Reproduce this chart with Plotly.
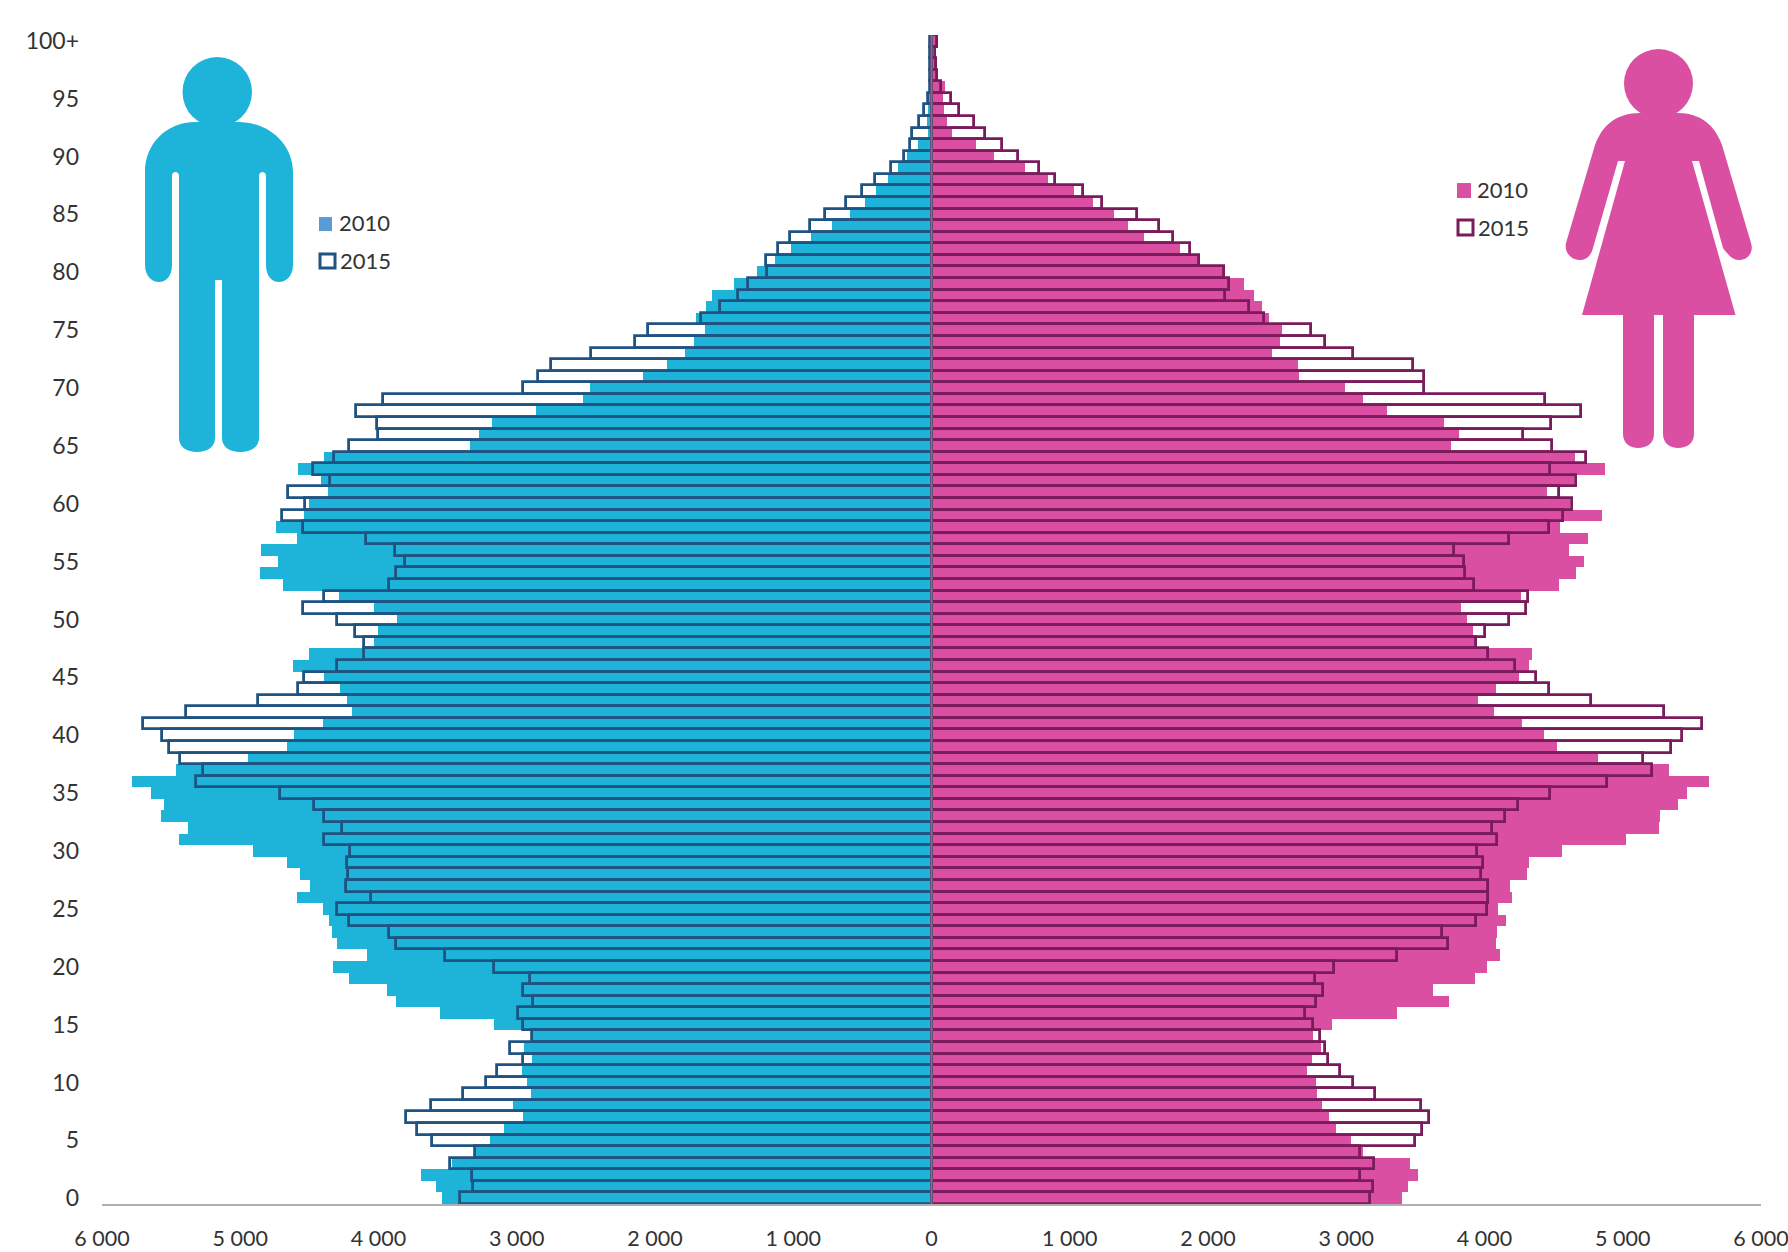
import plotly.graph_objects as go

ages = list(range(0, 101))
male_2010 = [3541,3584,3695,3470,3292,3197,3090,2953,3026,2897,2923,2961,2888,2944,2880,3167,3558,3871,3940,4210,
             4330,4082,4300,4339,4356,4403,4588,4498,4571,4665,4906,5446,5378,5575,5549,5648,5781,5464,4944,4665,
             4609,4403,4193,4227,4275,4395,4618,4506,4030,4004,3867,4030,4283,4691,4858,4730,4850,4588,4738,4541,
             4506,4365,4416,4584,4395,3335,3270,3176,2858,2524,2468,2090,1910,1781,1717,1640,1704,1631,1588,1425,
             1262,1129,1017,875,717,586,482,398,313,239,178,99,27,34,27,15,8,5,5,5,5]
male_2015 = [3412,3318,3326,3485,3305,3614,3725,3798,3622,3391,3223,3142,2953,3047,2888,2957,2991,2880,2953,2906,
             3167,3519,3876,3923,4210,4300,4052,4236,4219,4227,4206,4395,4266,4395,4464,4712,5318,5270,5438,5515,
             5567,5700,5391,4871,4579,4536,4300,4107,4107,4172,4300,4545,4395,3923,3876,3811,3884,4090,4545,4695,
             4532,4657,4348,4472,4322,4210,4004,4013,4163,3970,2953,2845,2751,2464,2146,2052,1670,1528,1399,1326,
             1189,1197,1112,1026,880,767,622,501,407,296,202,154,140,92,53,27,10,10,10,10,10]
female_2010 = [3405,3448,3516,3460,3123,3033,2929,2874,2827,2791,2779,2716,2751,2815,2763,2898,3365,3745,3626,3931,
               4018,4109,4085,4093,4153,4101,4196,4188,4307,4323,4557,5024,5261,5273,5396,5467,5626,5333,4822,4525,
               4430,4271,4066,3955,4082,4252,4323,4343,3930,3915,3872,3832,4264,4541,4660,4723,4612,4751,4545,4853,
               4620,4450,4650,4873,4652,3761,3816,3709,3294,3123,2993,2660,2652,2466,2522,2538,2439,2391,2336,2261,
               2106,1925,1797,1536,1421,1322,1169,1029,843,677,453,323,147,111,92,82,96,35,25,10,30]
female_2015 = [3171,3191,3100,3199,3100,3496,3551,3599,3543,3207,3052,2957,2866,2846,2811,2763,2700,2783,2831,2771,
               2914,3369,3737,3694,3935,4018,4026,4026,3975,3990,3943,4093,4054,4149,4244,4473,4885,5210,5143,5348,
               5432,5574,5301,4770,4465,4371,4224,4026,3939,4006,4177,4299,4315,3923,3860,3852,3777,4177,4465,4568,
               4632,4537,4660,4477,4735,4489,4279,4481,4699,4438,3563,3563,3480,3052,2846,2744,2403,2300,2126,2150,
               2118,1936,1873,1750,1647,1488,1236,1097,892,781,629,508,390,306,202,140,72,39,29,22,39]
x_tick_values = [-6000,-5000,-4000,-3000,-2000,-1000,0,1000,2000,3000,4000,5000,6000]
x_tick_labels = ["6 000","5 000","4 000","3 000","2 000","1 000","0","1 000","2 000","3 000","4 000","5 000","6 000"]
y_tick_values = list(range(0, 101, 5))
y_tick_labels = [str(v) for v in y_tick_values[:-1]] + ["100+"]

CYAN = "#1EB4D9"
PINK = "#DB4FA2"
NAVY = "#1F5382"
PLUM = "#7A1B5C"
L, R, T, B = 102.0, 1761.0, 35.0, 1203.7
FONT = "Lato"

def px(x):
    return (x - L) / (R - L)

def py(y):
    return (B - y) / (B - T)

def path(cmds):
    out = []
    for c in cmds:
        out.append(c[0] + " " + " ".join(
            f"{px(c[i]):.5f},{py(c[i+1]):.5f}" for i in range(1, len(c), 2)))
    return " ".join(out) + " Z"

man = [("M",196,122),("L",238,122),("C",270,122,293,145,293,172),("L",293,265),("C",293,276,286,282,279,282),
       ("C",272,282,266,276,266,265),("L",266,176),("C",266,173,264,172,262.5,172),("C",261,172,259,173,259,176),
       ("L",259,438),("C",259,447,251,452,240,452),("C",230,452,222,447,222,438),("L",222,280),("L",215,280),
       ("L",215,438),("C",215,447,207,452,197,452),("C",187,452,179,447,179,438),("L",179,176),
       ("C",179,173,177,172,175.5,172),("C",174,172,172,173,172,176),("L",172,265),("C",172,276,166,282,159,282),
       ("C",152,282,145,276,145,265),("L",145,172),("C",145,145,165,122,196,122)]
woman = [("M",1640,113),("L",1678,113),("C",1700,113,1715,125,1722,145),("L",1751,243),("C",1754,252,1748,260,1739,260),
         ("C",1733,260,1729,256,1723,248),("L",1699,161),("L",1692,161),("L",1735.5,315),("L",1694,315),("L",1694,434),
         ("C",1694,443,1687,448,1678,448),("C",1670,448,1663,443,1663,434),("L",1663,315),("L",1654,315),("L",1654,434),
         ("C",1654,443,1647,448,1638,448),("C",1630,448,1623,443,1623,434),("L",1623,315),("L",1582,315),("L",1625,161),
         ("L",1618,161),("L",1593,248),("C",1591,256,1586,260,1580,260),("C",1571,260,1564,252,1566,243),
         ("L",1595,145),("C",1602,125,1617,113,1640,113)]

def rect(x0, y0, x1, y1, fill, line=None, w=0):
    return dict(type="rect", xref="paper", yref="paper", x0=px(x0), x1=px(x1), y0=py(y0), y1=py(y1),
                fillcolor=fill, line=dict(color=line or fill, width=w))

shapes = [
    dict(type="circle", xref="paper", yref="paper", x0=px(182.5), x1=px(252), y0=py(127), y1=py(57),
         fillcolor=CYAN, line=dict(width=0)),
    dict(type="path", xref="paper", yref="paper", path=path(man), fillcolor=CYAN, line=dict(width=0)),
    dict(type="circle", xref="paper", yref="paper", x0=px(1624), x1=px(1693), y0=py(118), y1=py(49),
         fillcolor=PINK, line=dict(width=0)),
    dict(type="path", xref="paper", yref="paper", path=path(woman), fillcolor=PINK, line=dict(width=0)),
    rect(319, 217, 332, 231, "#5B9BD5"),
    rect(320, 254, 335, 268, "#FFFFFF", NAVY, 3),
    rect(1457, 183, 1471, 198, PINK),
    rect(1458, 220, 1473, 235, "#FFFFFF", PLUM, 3),
    dict(type="line", xref="x", yref="paper", x0=0, x1=0, y0=0, y1=1, line=dict(color="#5F7C90", width=2)),
]

def label(x, y, text):
    return dict(xref="paper", yref="paper", x=px(x), y=py(y), text=text, showarrow=False, xanchor="left",
                yanchor="middle", font=dict(family=FONT, size=22, color="#333333"))

annotations = [label(337, 222, "2010"), label(338, 260, "2015"), label(1475, 189, "2010"), label(1476, 227, "2015")]

fig = go.Figure()
fig.add_bar(y=ages, x=[-v for v in male_2010], orientation="h", name="Male 2010",
            marker=dict(color=CYAN, line=dict(width=0)))
fig.add_bar(y=ages, x=female_2010, orientation="h", name="Female 2010",
            marker=dict(color=PINK, line=dict(width=0)))
fig.add_bar(y=ages, x=[-v for v in male_2015], orientation="h", name="Male 2015",
            marker=dict(color="rgba(0,0,0,0)", line=dict(color=NAVY, width=2.8)))
fig.add_bar(y=ages, x=female_2015, orientation="h", name="Female 2015",
            marker=dict(color="rgba(0,0,0,0)", line=dict(color=PLUM, width=2.8)))

fig.update_layout(
    width=1788, height=1252, barmode="overlay", bargap=0, showlegend=False,
    paper_bgcolor="#FFFFFF", plot_bgcolor="#FFFFFF",
    margin=dict(l=L, r=1788 - R, t=T, b=1252 - B, autoexpand=False),
    font=dict(family=FONT, size=22, color="#333333"),
    shapes=shapes, annotations=annotations,
    xaxis=dict(range=[-6000, 6000], tickvals=x_tick_values, ticktext=x_tick_labels, showgrid=False, zeroline=False,
               showline=True, linecolor="#B0B0B0", linewidth=2, ticks="", ticklabelstandoff=14,
               ticklabeloverflow="allow", automargin=False, tickfont=dict(family=FONT, size=21.5, color="#333333")),
    yaxis=dict(range=[-0.5, 100.5], tickvals=y_tick_values, ticktext=y_tick_labels, showgrid=False, zeroline=False,
               showline=False, ticks="", ticklabelstandoff=22, automargin=False,
               tickfont=dict(family=FONT, size=23, color="#333333")),
)

fig.write_html("out.html", config={"displayModeBar": False},
               post_script="document.body.style.margin='0';window.dispatchEvent(new Event('resize'));")
